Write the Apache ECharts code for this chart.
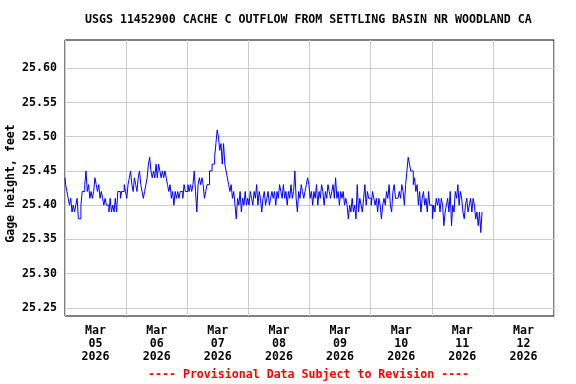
<!DOCTYPE html>
<html><head><meta charset="utf-8">
<script src="https://cdn.jsdelivr.net/npm/echarts@6/dist/echarts.min.js"></script>
<style>html,body{margin:0;padding:0;background:#fff}#c{width:576px;height:384px}</style>
</head><body><div id="c"></div>
<script>
// Gage height (feet), half-hourly readings starting at 00:00 each day
const mar05 = [25.44,25.43,25.42,25.41,25.40,25.41,25.39,25.40,25.39,25.40,25.41,25.38,25.38,25.40,25.42,25.42,25.43,25.45,25.42,25.43,25.41,25.42,25.41,25.42,25.44,25.43,25.42,25.43,25.41,25.42,25.41,25.40,25.41,25.40,25.40,25.39,25.41,25.39,25.40,25.39,25.41,25.39,25.42,25.42,25.41,25.42,25.42,25.43];
const mar06 = [25.42,25.41,25.43,25.44,25.45,25.43,25.42,25.44,25.43,25.42,25.44,25.45,25.43,25.42,25.41,25.42,25.43,25.44,25.46,25.47,25.45,25.44,25.45,25.44,25.46,25.44,25.46,25.45,25.44,25.45,25.44,25.45,25.44,25.43,25.42,25.43,25.41,25.42,25.40,25.42,25.41,25.42,25.41,25.42,25.42,25.41,25.43,25.42];
const mar07 = [25.42,25.43,25.42,25.43,25.42,25.43,25.45,25.42,25.39,25.43,25.44,25.43,25.44,25.43,25.41,25.42,25.43,25.43,25.45,25.45,25.46,25.46,25.47,25.49,25.51,25.50,25.48,25.49,25.46,25.49,25.46,25.45,25.44,25.43,25.42,25.43,25.41,25.42,25.40,25.38,25.41,25.40,25.42,25.39,25.41,25.40,25.42,25.40];
const mar08 = [25.41,25.40,25.42,25.41,25.40,25.42,25.41,25.43,25.40,25.42,25.41,25.39,25.41,25.42,25.40,25.41,25.42,25.40,25.41,25.42,25.41,25.42,25.40,25.42,25.41,25.43,25.42,25.41,25.43,25.41,25.42,25.40,25.42,25.41,25.43,25.41,25.42,25.45,25.41,25.39,25.42,25.41,25.43,25.42,25.41,25.42,25.43,25.44];
const mar09 = [25.43,25.41,25.42,25.40,25.42,25.41,25.43,25.40,25.42,25.41,25.43,25.42,25.40,25.42,25.41,25.43,25.42,25.41,25.42,25.43,25.41,25.44,25.41,25.42,25.40,25.42,25.41,25.42,25.40,25.41,25.40,25.38,25.40,25.39,25.41,25.39,25.40,25.38,25.43,25.39,25.41,25.40,25.39,25.41,25.43,25.40,25.42,25.41];
const mar10 = [25.41,25.40,25.42,25.41,25.40,25.41,25.39,25.41,25.40,25.38,25.40,25.41,25.40,25.42,25.41,25.43,25.40,25.39,25.42,25.43,25.41,25.41,25.41,25.42,25.41,25.43,25.42,25.40,25.43,25.45,25.47,25.46,25.45,25.45,25.43,25.44,25.42,25.43,25.40,25.42,25.39,25.41,25.42,25.40,25.41,25.39,25.42,25.40];
const mar11 = [25.40,25.38,25.40,25.39,25.41,25.40,25.41,25.39,25.41,25.40,25.37,25.39,25.40,25.41,25.39,25.42,25.37,25.40,25.39,25.42,25.41,25.43,25.40,25.42,25.41,25.39,25.38,25.40,25.41,25.39,25.40,25.41,25.39,25.41,25.40,25.38,25.39,25.37,25.39,25.36,25.39];
const days = [mar05, mar06, mar07, mar08, mar09, mar10, mar11];
const stepHours = 0.5;

const yTicks = [25.25, 25.30, 25.35, 25.40, 25.45, 25.50, 25.55, 25.60];
const xLabelHours = [12, 36, 60, 84, 108, 132, 156, 180];
const xLabels = ['Mar\n05\n2026','Mar\n06\n2026','Mar\n07\n2026','Mar\n08\n2026','Mar\n09\n2026','Mar\n10\n2026','Mar\n11\n2026','Mar\n12\n2026'];

const titleText = 'USGS 11452900 CACHE C OUTFLOW FROM SETTLING BASIN NR WOODLAND CA';
const footerText = '---- Provisional Data Subject to Revision ----';
const yName = 'Gage height, feet';

const data = [];
days.forEach((arr, d) => arr.forEach((v, i) => data.push([d * 24 + i * stepHours, v])));

const FONT = 'DejaVu Sans Mono';
const chart = echarts.init(document.getElementById('c'), null, {renderer: 'canvas'});
chart.setOption({
  animation: false,
  backgroundColor: '#ffffff',
  title: [
    {text: titleText, left: 85, top: 14, padding: 0,
     textStyle: {fontFamily: FONT, fontWeight: 'bold', fontSize: 11.6, color: '#000'}},
    {text: footerText, left: 148, top: 369, padding: 0,
     textStyle: {fontFamily: FONT, fontWeight: 'bold', fontSize: 11.6, color: '#ff0000'}}
  ],
  grid: {left: 65, right: 22, top: 40, bottom: 68, outerBoundsMode: 'none', containLabel: false,
         show: true, borderColor: '#000', borderWidth: 1, backgroundColor: 'transparent'},
  xAxis: {
    type: 'value', min: 0, max: 192, interval: 24,
    axisLine: {show: false}, axisTick: {show: false},
    splitLine: {show: true, lineStyle: {color: '#cccccc', width: 1}},
    axisLabel: {
      customValues: xLabelHours,
      formatter: (v) => xLabels[xLabelHours.indexOf(v)] || '',
      fontFamily: FONT, fontWeight: 'bold', fontSize: 11.6, color: '#000', lineHeight: 13, margin: 8
    }
  },
  yAxis: {
    type: 'value', min: 25.238, max: 25.6414,
    name: yName, nameLocation: 'middle', nameGap: 48, nameMoveOverlap: false,
    nameTextStyle: {fontFamily: FONT, fontWeight: 'bold', fontSize: 11.6, color: '#000', padding: [0, 11, 0, 0]},
    axisLine: {show: false},
    axisTick: {show: false, customValues: yTicks},
    splitLine: {show: true, lineStyle: {color: '#cccccc', width: 1}},
    axisLabel: {customValues: yTicks, formatter: (v) => v.toFixed(2),
      fontFamily: FONT, fontWeight: 'bold', fontSize: 11.6, color: '#000', margin: 8}
  },
  series: [{
    type: 'line', data: data, showSymbol: false, symbol: 'none', step: 'middle',
    lineStyle: {color: '#0000ff', width: 1}, z: 3
  }]
});
</script></body></html>
